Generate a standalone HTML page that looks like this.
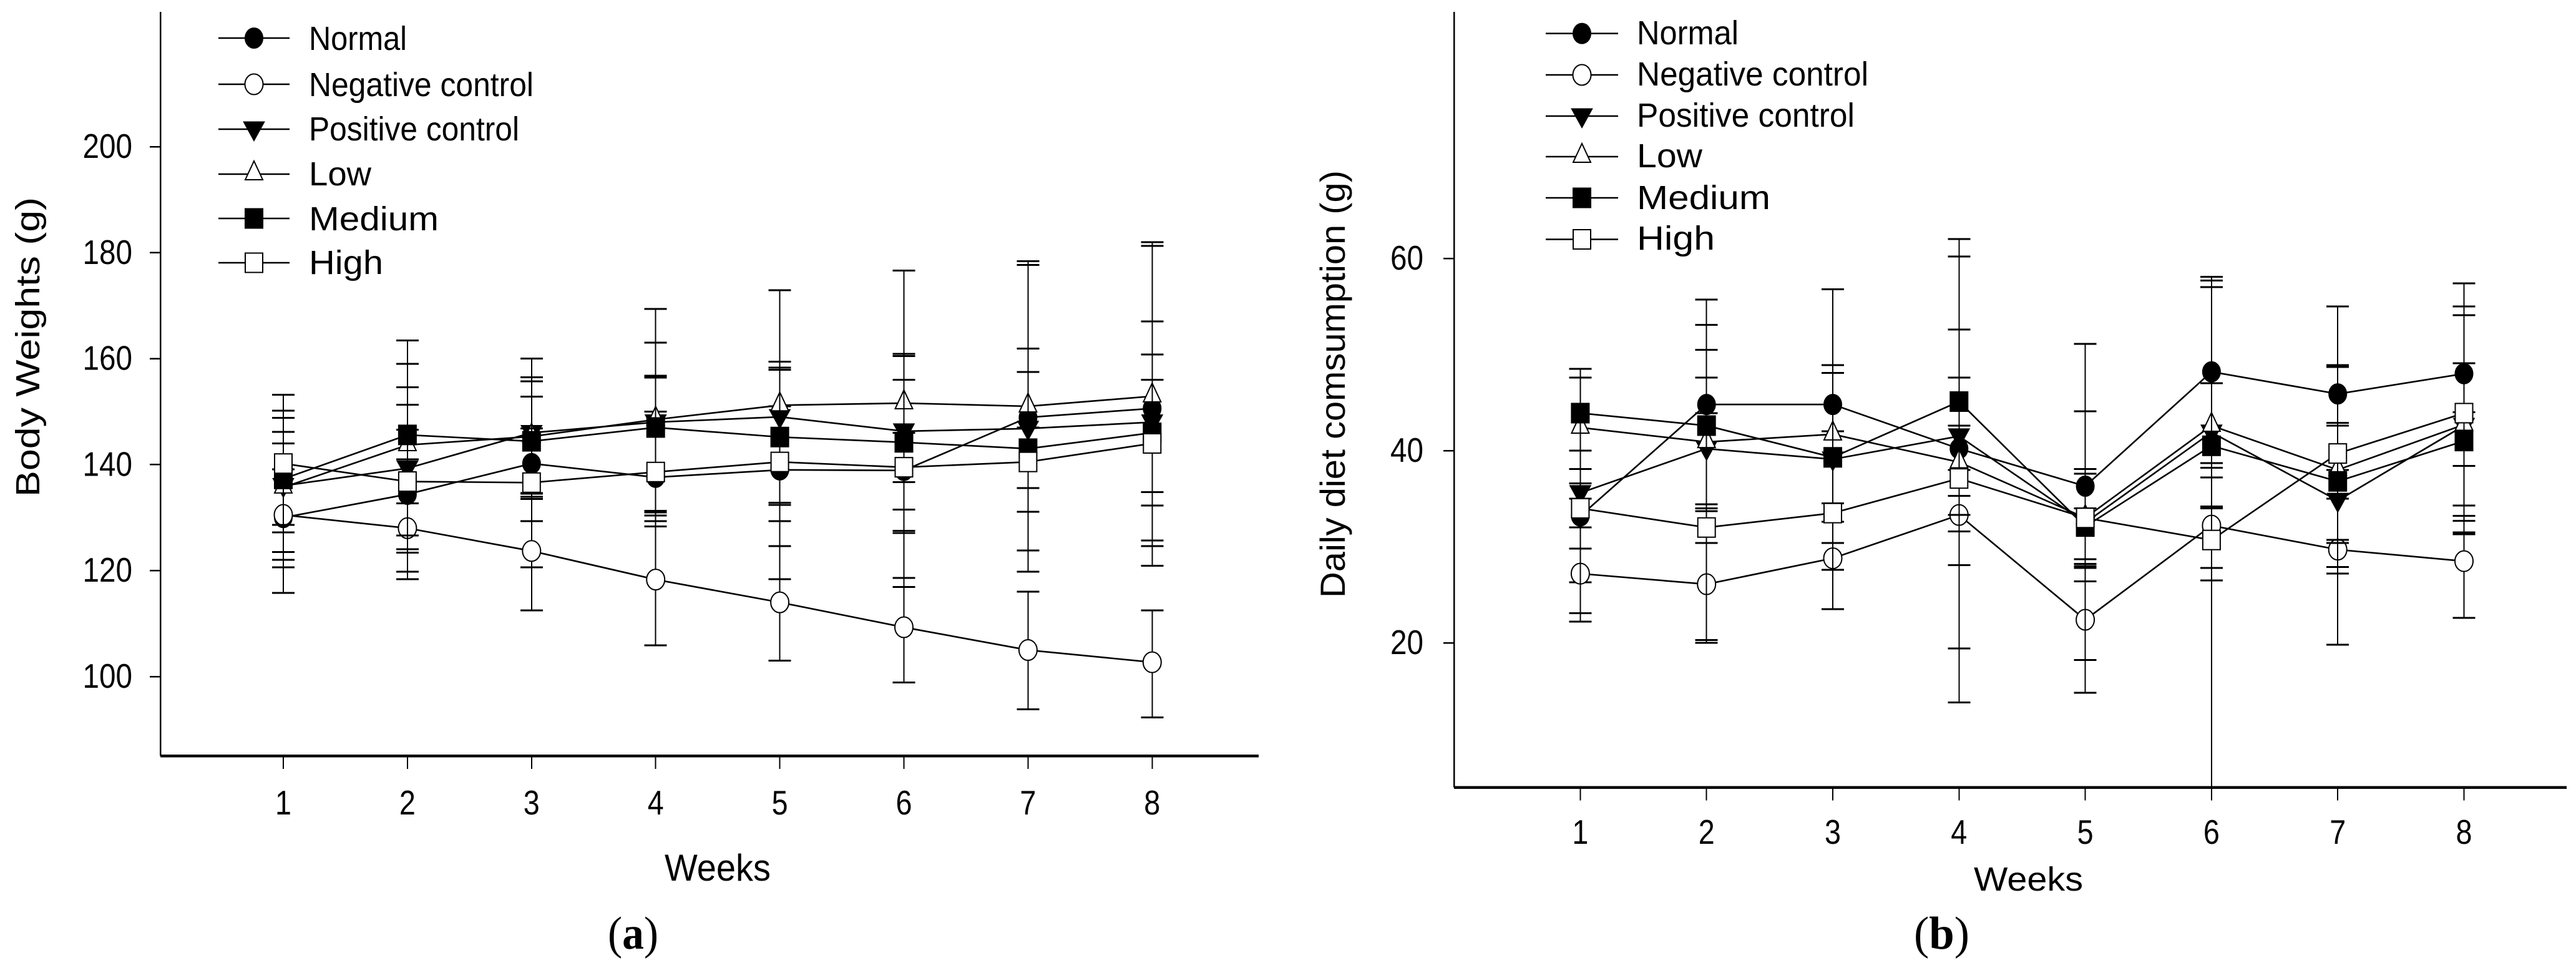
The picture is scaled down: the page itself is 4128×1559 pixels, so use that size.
<!DOCTYPE html>
<html lang="en">
<head>
<meta charset="utf-8">
<title>Body weights and daily diet consumption</title>
<style>
html,body{margin:0;padding:0;background:#fff;}
svg{display:block;}
text{font-family:"Liberation Sans",sans-serif;fill:#000;}
.cap{font-family:"Liberation Serif",serif;}
</style>
</head>
<body>
<svg id="fig" xmlns="http://www.w3.org/2000/svg" width="4128" height="1559" viewBox="0 0 4128 1559">
<rect x="0" y="0" width="4128" height="1559" fill="#fff"/>

<text transform="translate(63,796) rotate(-90)" font-size="54" textLength="480" lengthAdjust="spacingAndGlyphs">Body Weights (g)</text>
<text x="1065" y="1411" font-size="60" textLength="170" lengthAdjust="spacingAndGlyphs">Weeks</text>
<text class="cap" x="974" y="1520" font-size="74" textLength="81" lengthAdjust="spacingAndGlyphs">(<tspan font-weight="bold">a</tspan>)</text>

<text transform="translate(2155,958) rotate(-90)" font-size="56" textLength="685" lengthAdjust="spacingAndGlyphs">Daily diet comsumption (g)</text>
<text x="3163" y="1427" font-size="54" textLength="175" lengthAdjust="spacingAndGlyphs">Weeks</text>
<text class="cap" x="3067" y="1520" font-size="74" textLength="89" lengthAdjust="spacingAndGlyphs">(<tspan font-weight="bold">b</tspan>)</text>

<g font-size="54">
<text x="495" y="80" textLength="157" lengthAdjust="spacingAndGlyphs">Normal</text>
<text x="495" y="154" textLength="360" lengthAdjust="spacingAndGlyphs">Negative control</text>
<text x="495" y="225" textLength="337" lengthAdjust="spacingAndGlyphs">Positive control</text>
<text x="495" y="297" textLength="100" lengthAdjust="spacingAndGlyphs">Low</text>
<text x="495" y="369" textLength="208" lengthAdjust="spacingAndGlyphs">Medium</text>
<text x="495" y="439" textLength="119" lengthAdjust="spacingAndGlyphs">High</text>
</g>
<g font-size="54">
<text x="2623" y="71" textLength="163" lengthAdjust="spacingAndGlyphs">Normal</text>
<text x="2623" y="137" textLength="371" lengthAdjust="spacingAndGlyphs">Negative control</text>
<text x="2623" y="203" textLength="349" lengthAdjust="spacingAndGlyphs">Positive control</text>
<text x="2623" y="268" textLength="105" lengthAdjust="spacingAndGlyphs">Low</text>
<text x="2623" y="335" textLength="214" lengthAdjust="spacingAndGlyphs">Medium</text>
<text x="2623" y="400" textLength="125" lengthAdjust="spacingAndGlyphs">High</text>
</g>
</svg>

<script>
// ---------- shared categories ----------
const weeks = [1, 2, 3, 4, 5, 6, 7, 8];
const seriesKeys = ['normal', 'negative', 'positive', 'low', 'medium', 'high'];

// ---------- chart (a): Body weights ----------
const bodyTicks = [100, 120, 140, 160, 180, 200];
const bodyNormal = [130, 134.4, 140.2, 137.6, 139, 138.9, 148.9, 150.6];
const bodyNegative = [130.5, 128, 123.7, 118.3, 114, 109.3, 105, 102.7];
const bodyPositive = [136, 139.3, 146, 148, 149, 146.3, 146.8, 148];
const bodyLow = [135.7, 143.7, 145.3, 148.5, 151.2, 151.6, 151, 152.9];
const bodyMedium = [137.3, 145.6, 144.4, 147, 145.2, 144.2, 143, 146];
const bodyHigh = [140.2, 136.8, 136.6, 138.6, 140.5, 139.5, 140.5, 144];

const bodyNormalUpper = [144, 146.6, 152.8, 150, 151, 146, 178.4, 181.3];
const bodyNormalLower = [115.8, 119.8, 120.6, 128.3, 118.4, 116.9, 119.8, 120.9];
const bodyNegativeUpper = [139.1, 141, 134.5, 131.3, 124.6, 118.6, 116, 112.5];
const bodyNegativeLower = [120.6, 118.4, 112.5, 105.9, 103, 98.9, 93.8, 92.3];
const bodyPositiveUpper = [146.2, 154.6, 156.5, 163, 159.4, 160.9, 161.9, 167];
const bodyPositiveLower = [128.6, 124, 129.3, 129.3, 132.4, 131.5, 131.1, 132.3];
const bodyLowUpper = [148.8, 159, 160, 169.4, 172.9, 176.6, 177.7, 182];
const bodyLowLower = [122, 126.6, 133.9, 130.4, 132.8, 136.7, 123.8, 134.8];
const bodyMediumUpper = [150.2, 163.4, 155.7, 156.8, 158.3, 160.5, 157.5, 160.8];
const bodyMediumLower = [123.5, 132.7, 133.5, 128.3, 129.3, 127.5, 135.6, 125.7];
const bodyHighUpper = [153.2, 151.3, 146.8, 156.4, 157.9, 156, 147, 156];
const bodyHighLower = [127.2, 123.4, 134.6, 131, 124.6, 127.1, 131.1, 124.6];

// ---------- chart (b): Daily diet consumption ----------
const dietTicks = [20, 40, 60];
const dietNormal = [33.2, 44.8, 44.8, 40.2, 36.3, 48.2, 45.9, 48];
const dietNegative = [27.2, 26.1, 28.8, 33.3, 22.4, 32.2, 29.7, 28.5];
const dietPositive = [35.6, 40.2, 39.1, 41.5, 32.5, 41.9, 34.8, 42.6];
const dietLow = [42.4, 40.9, 41.7, 38.8, 33, 42.6, 38, 42.7];
const dietMedium = [43.9, 42.6, 39.3, 45.1, 32.1, 40.5, 36.8, 41];
const dietHigh = [34, 32, 33.5, 37.1, 33, 30.7, 39.7, 43.9];

const dietNormalUpper = [40, 53.1, 56.8, 52.6, 51.1, 58.1, 55, 57.4];
const dietNormalLower = [26.3, 43.9, 34.5, 31.6, 28.7, 38.7, 38, 38.4];
const dietNegativeUpper = [32, 30.4, 30.4, 42.6, 26.4, 34.2, 35, 34.3];
const dietNegativeLower = [22.2, 20, 23.5, 13.8, 14.8, 26.5, 19.8, 22.6];
const dietPositiveUpper = [40, 50.5, 42, 60.2, 44.1, 57, 42.6, 54.1];
const dietPositiveLower = [23.1, 30.4, 27.6, 28.1, 28.2, 37.2, 27.2, 32.7];
const dietLowUpper = [47.6, 47.6, 48.9, 47.6, 38.1, 57.7, 48.7, 49.1];
const dietLowLower = [36.6, 34.4, 32.6, 35.3, 27.8, 38.2, 30.4, 31.5];
const dietMediumUpper = [48.5, 55.7, 48.1, 62, 37.6, 47, 42.9, 44];
const dietMediumLower = [38.1, 33.7, 30.4, 19.4, 18.2, 27.8, 27.9, 31.3];
const dietHighUpper = [35, 34, 34.5, 38, 34, 34, 48.9, 55];
const dietHighLower = [29.8, 20.3, 32.6, 33.3, 28, 5, 30.7, 33.2];

// ---------- helpers ----------
const NS = 'http://www.w3.org/2000/svg';
const fig = document.getElementById('fig');

function make(tag, parent, attrs) {
  const node = document.createElementNS(NS, tag);
  for (const k in attrs) node.setAttribute(k, attrs[k]);
  parent.appendChild(node);
  return node;
}

function makeXScale(first, step) {
  return function (week) { return first + (week - 1) * step; };
}
function makeYScale(refValue, refPixel, pixelsPerUnit) {
  return function (v) { return refPixel + (refValue - v) * pixelsPerUnit; };
}

function drawMarker(parent, key, x, y) {
  let m;
  if (key === 'normal' || key === 'negative') {
    m = make('ellipse', parent, {
      cx: x, cy: y, rx: 14.5, ry: 16.5,
      fill: key === 'normal' ? '#000' : '#fff', stroke: '#000', 'stroke-width': key === 'normal' ? 1 : 2
    });
  } else if (key === 'positive') {
    m = make('polygon', parent, {
      points: (x - 17) + ',' + (y - 12) + ' ' + (x + 17) + ',' + (y - 12) + ' ' + x + ',' + (y + 19),
      fill: '#000', stroke: '#000', 'stroke-width': 1
    });
  } else if (key === 'low') {
    m = make('polygon', parent, {
      points: (x - 14) + ',' + (y + 9) + ' ' + (x + 14) + ',' + (y + 9) + ' ' + x + ',' + (y - 21),
      fill: '#fff', stroke: '#000', 'stroke-width': 2
    });
  } else {
    m = make('rect', parent, {
      x: x - 14, y: y - 15.5, width: 28, height: 31,
      fill: key === 'medium' ? '#000' : '#fff', stroke: '#000', 'stroke-width': 2
    });
  }
  return m;
}

function drawAxes(parent, panel, x, y) {
  const axisY = make('line', parent, { x1: panel.axisX, y1: panel.axisTop, x2: panel.axisX, y2: panel.baseline, stroke: '#000', 'stroke-width': 2.5, 'shape-rendering': 'crispEdges' });
  
  
  const axisX = make('line', parent, { x1: panel.axisX, y1: panel.baseline, x2: panel.axisEnd, y2: panel.baseline, stroke: '#000', 'stroke-width': 4.5, 'shape-rendering': 'crispEdges' });
  
  

  panel.yTicks.forEach(function (t) {
    const tick = make('line', parent, { x1: panel.axisX - 17, y1: y(t), x2: panel.axisX, y2: y(t), stroke: '#000', 'stroke-width': 2.5, 'shape-rendering': 'crispEdges' });
    
    
    const digits = String(t).length;
    const label = make('text', parent, { x: panel.yLabelRight - digits * 26.5, y: y(t) + 18, 'font-size': 55, textLength: digits * 26.5, lengthAdjust: 'spacingAndGlyphs' });
    
    
    label.textContent = t;
  });

  weeks.forEach(function (w) {
    const tick = make('line', parent, { x1: x(w), y1: panel.baseline, x2: x(w), y2: panel.baseline + 21, stroke: '#000', 'stroke-width': 2, 'shape-rendering': 'crispEdges' });
    
    
    const label = make('text', parent, { x: x(w) - 13, y: panel.xLabelBase, 'font-size': 55, textLength: 26, lengthAdjust: 'spacingAndGlyphs' });
    
    
    label.textContent = w;
  });
}

function drawSeries(parent, panel, s, x, y) {
  const group = make('g', parent, {});
  
  

  weeks.forEach(function (w, i) {
    const top = y(s.upper[i]);
    const bottom = y(s.lower[i]);
    const stem = make('line', group, { x1: x(w), y1: top, x2: x(w), y2: bottom, stroke: '#000', 'stroke-width': 2, 'shape-rendering': 'crispEdges' });
    
    
    const capTop = make('line', group, { x1: x(w) - 18, y1: top, x2: x(w) + 18, y2: top, stroke: '#000', 'stroke-width': 3, 'shape-rendering': 'crispEdges' });
    
    
    const capBottom = make('line', group, { x1: x(w) - 18, y1: bottom, x2: x(w) + 18, y2: bottom, stroke: '#000', 'stroke-width': 3, 'shape-rendering': 'crispEdges' });
    
    
  });

  const pts = weeks.map(function (w, i) { return x(w) + ',' + y(s.values[i]); }).join(' ');
  const path = make('polyline', group, { points: pts, fill: 'none', stroke: '#000', 'stroke-width': 2.6 });
  
  

  weeks.forEach(function (w, i) {
    const m = drawMarker(group, s.key, x(w), y(s.values[i]));
    
    
  });
}

function drawLegend(parent, panel) {
  seriesKeys.forEach(function (key, i) {
    const ly = panel.legendRows[i];
    const sample = make('line', parent, { x1: panel.legendX1, y1: ly, x2: panel.legendX2, y2: ly, stroke: '#000', 'stroke-width': 2.5 });
    
    
    const m = drawMarker(parent, key, (panel.legendX1 + panel.legendX2) / 2, ly);
    
    
  });
}

function drawPanel(panel) {
  const root = make('g', fig, {});
  
  
  const x = makeXScale(panel.xFirst, panel.xStep);
  const y = makeYScale(panel.yRef, panel.yRefPx, panel.yPerUnit);
  drawAxes(root, panel, x, y);
  panel.series.forEach(function (s) { drawSeries(root, panel, s, x, y); });
  drawLegend(root, panel);
}

drawPanel({
  id: 'a', axisX: 257, axisTop: 19, baseline: 1211, axisEnd: 2017,
  xFirst: 454, xStep: 198.9, yRef: 200, yRefPx: 235, yPerUnit: 8.49,
  yTicks: bodyTicks, yLabelRight: 212, xLabelBase: 1305,
  legendX1: 350, legendX2: 464, legendRows: [61, 135, 207, 279, 350, 421],
  series: [
    { key: 'normal', values: bodyNormal, upper: bodyNormalUpper, lower: bodyNormalLower },
    { key: 'negative', values: bodyNegative, upper: bodyNegativeUpper, lower: bodyNegativeLower },
    { key: 'positive', values: bodyPositive, upper: bodyPositiveUpper, lower: bodyPositiveLower },
    { key: 'low', values: bodyLow, upper: bodyLowUpper, lower: bodyLowLower },
    { key: 'medium', values: bodyMedium, upper: bodyMediumUpper, lower: bodyMediumLower },
    { key: 'high', values: bodyHigh, upper: bodyHighUpper, lower: bodyHighLower }
  ]
});

drawPanel({
  id: 'b', axisX: 2330, axisTop: 19, baseline: 1261.5, axisEnd: 4113,
  xFirst: 2532.4, xStep: 202.3, yRef: 60, yRefPx: 414, yPerUnit: 15.4,
  yTicks: dietTicks, yLabelRight: 2281, xLabelBase: 1352,
  legendX1: 2477, legendX2: 2593, legendRows: [53.6, 120, 186, 251, 317, 383.5],
  series: [
    { key: 'normal', values: dietNormal, upper: dietNormalUpper, lower: dietNormalLower },
    { key: 'negative', values: dietNegative, upper: dietNegativeUpper, lower: dietNegativeLower },
    { key: 'positive', values: dietPositive, upper: dietPositiveUpper, lower: dietPositiveLower },
    { key: 'low', values: dietLow, upper: dietLowUpper, lower: dietLowLower },
    { key: 'medium', values: dietMedium, upper: dietMediumUpper, lower: dietMediumLower },
    { key: 'high', values: dietHigh, upper: dietHighUpper, lower: dietHighLower }
  ]
});
</script>
</body>
</html>
